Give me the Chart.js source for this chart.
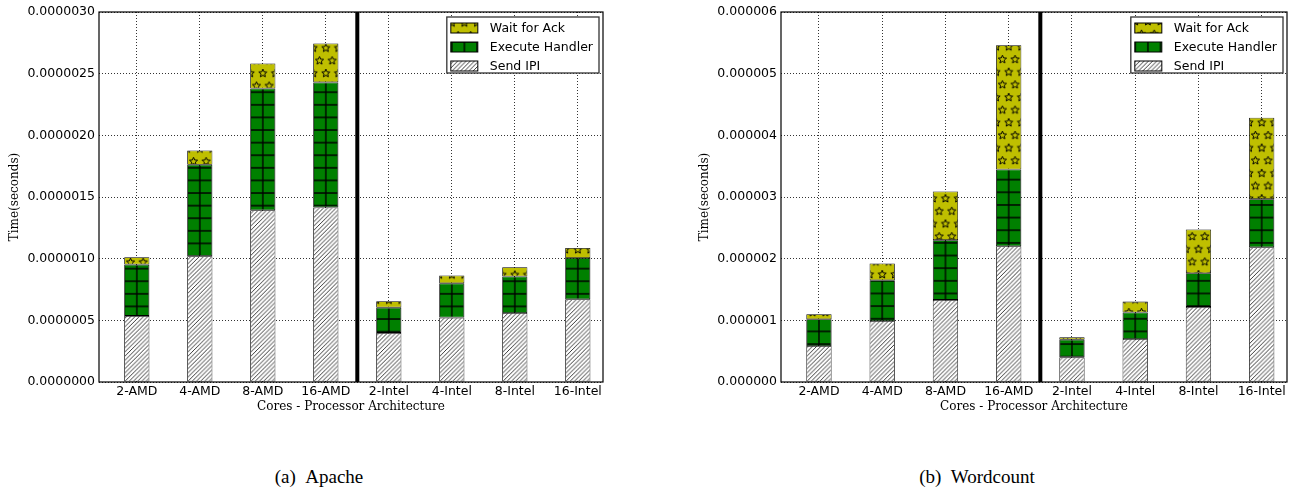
<!DOCTYPE html>
<html>
<head>
<meta charset="utf-8">
<script src="https://cdn.jsdelivr.net/npm/chart.js@4.4.0/dist/chart.umd.min.js"></script>
<style>
  html, body { margin: 0; padding: 0; background: #fff; }
  body { width: 1295px; height: 487px; position: relative; overflow: hidden; }
  canvas { position: absolute; top: 0; }
  #apache { left: 0; }
  #wordcount { left: 690px; }
  .caption {
    position: absolute; top: 466px; transform: translateX(-50%);
    font-family: 'Liberation Serif', 'Times New Roman', serif;
    font-size: 19px; line-height: 22px; color: #000; white-space: nowrap;
  }
</style>
</head>
<body>
<canvas id="apache" width="640" height="414"></canvas>
<canvas id="wordcount" width="605" height="414"></canvas>
<div class="caption" style="left:319px">(a)&nbsp;&nbsp;Apache</div>
<div class="caption" style="left:977px">(b)&nbsp;&nbsp;Wordcount</div>

<script>
const CORES = ['2-AMD', '4-AMD', '8-AMD', '16-AMD', '2-Intel', '4-Intel', '8-Intel', '16-Intel'];
const DIVIDER_AT = 3.5; // between the AMD and Intel groups

// Apache, seconds per phase (stacked)
const APACHE_SEND = [0.536e-6, 1.020e-6, 1.393e-6, 1.415e-6, 0.398e-6, 0.522e-6, 0.560e-6, 0.671e-6];
const APACHE_EXEC = [0.416e-6, 0.741e-6, 0.987e-6, 1.014e-6, 0.205e-6, 0.278e-6, 0.295e-6, 0.335e-6];
const APACHE_WAIT = [0.060e-6, 0.116e-6, 0.203e-6, 0.316e-6, 0.052e-6, 0.063e-6, 0.075e-6, 0.081e-6];
const APACHE_TICKS = [0, 0.5e-6, 1.0e-6, 1.5e-6, 2.0e-6, 2.5e-6, 3.0e-6];
const APACHE_TICK_LABELS = ['0.0000000', '0.0000005', '0.0000010', '0.0000015', '0.0000020', '0.0000025', '0.0000030'];

// Wordcount, seconds per phase (stacked)
const WC_SEND = [0.584e-6, 0.990e-6, 1.331e-6, 2.202e-6, 0.400e-6, 0.698e-6, 1.218e-6, 2.186e-6];
const WC_EXEC = [0.433e-6, 0.660e-6, 0.969e-6, 1.245e-6, 0.287e-6, 0.428e-6, 0.546e-6, 0.779e-6];
const WC_WAIT = [0.081e-6, 0.271e-6, 0.790e-6, 2.013e-6, 0.038e-6, 0.178e-6, 0.709e-6, 1.321e-6];
const WC_TICKS = [0, 1e-6, 2e-6, 3e-6, 4e-6, 5e-6, 6e-6];
const WC_TICK_LABELS = ['0.000000', '0.000001', '0.000002', '0.000003', '0.000004', '0.000005', '0.000006'];

const BAR_PCT = 0.4;
const TILE = 13;
const TICK_FONT = { family: "'DejaVu Sans', sans-serif", size: 12.5 };
const TITLE_FONT = { family: "'DejaVu Serif', serif", size: 12 };

function makeTile(ctx, w, h, draw) {
    const c = document.createElement('canvas');
    c.width = w; c.height = h;
    draw(c.getContext('2d'), w, h);
    return ctx.createPattern(c, 'repeat');
}

function star(g, cx, cy, r) {
    g.beginPath();
    for (let k = 0; k < 10; k++) {
        const rr = k % 2 ? r * 0.45 : r;
        const a = -Math.PI / 2 + k * Math.PI / 5;
        g.lineTo(cx + rr * Math.cos(a), cy + rr * Math.sin(a));
    }
    g.closePath();
    g.stroke();
}

function makePatterns(ctx) {
    const T = TILE;
    // Send IPI: white with dense '/' hatch
    const hatch = makeTile(ctx, T, T, (g) => {
        g.fillStyle = '#fff'; g.fillRect(0, 0, T, T);
        g.strokeStyle = '#000'; g.lineWidth = 0.8;
        for (let k = -1; k <= 7; k++) {
            const o = k * T / 3;
            g.beginPath(); g.moveTo(o, 0); g.lineTo(o - T, T); g.stroke();
        }
    });
    // Execute Handler: green with '+' grid
    const grid = makeTile(ctx, T, T, (g) => {
        g.fillStyle = '#008000'; g.fillRect(0, 0, T, T);
        g.strokeStyle = '#000'; g.lineWidth = 1.4;
        g.beginPath();
        g.moveTo(0, 0); g.lineTo(0, T); g.moveTo(T, 0); g.lineTo(T, T);
        g.moveTo(0, 0); g.lineTo(T, 0); g.moveTo(0, T); g.lineTo(T, T);
        g.stroke();
    });
    // Wait for Ack: yellow with star outlines, alternate rows offset
    const stars = makeTile(ctx, T, 2 * T, (g) => {
        g.fillStyle = '#bfbf00'; g.fillRect(0, 0, T, 2 * T);
        g.strokeStyle = '#000'; g.lineWidth = 1;
        star(g, T / 2, T / 2, 4.4);
        star(g, 0, 1.5 * T, 4.4);
        star(g, T, 1.5 * T, 4.4);
    });
    return { hatch, grid, stars };
}

function makeChart(canvasId, send, exec, wait, yTicks, yLabels, axisWidth, padRight) {
    const ctx = document.getElementById(canvasId).getContext('2d');
    const pats = makePatterns(ctx);

    const ds = (label, values, bg) => ({
        label: label,
        data: values.map((v, i) => ({ x: i, y: v })),
        backgroundColor: bg,
        borderColor: '#000',
        borderWidth: 0.8,
        borderSkipped: false,
        barPercentage: BAR_PCT,
        categoryPercentage: 1
    });

    // keep hatches lined up with the bars (two cells per bar width)
    const patternAlign = {
        id: 'patternAlign',
        beforeDatasetsDraw(chart) {
            const x = chart.scales.x, y = chart.scales.y;
            const half = x.getPixelForValue(BAR_PCT / 2) - x.getPixelForValue(0);
            const s = half / TILE;
            const m = new DOMMatrix().translateSelf(x.getPixelForValue(0), y.getPixelForValue(0)).scaleSelf(s, s);
            [pats.hatch, pats.grid, pats.stars].forEach(p => p.setTransform(m));
        }
    };

    const frame = {
        id: 'frame',
        afterDraw(chart) {
            const { ctx: c, chartArea: a, scales: { x } } = chart;
            c.save();
            // thick divider AMD | Intel
            const dx = x.getPixelForValue(DIVIDER_AT);
            c.strokeStyle = '#000';
            c.lineWidth = 4;
            c.beginPath(); c.moveTo(dx, a.top); c.lineTo(dx, a.bottom); c.stroke();
            // axes box
            c.lineWidth = 1.2;
            c.strokeRect(a.left, a.top, a.width, a.height);

            // legend, boxed, top right, reversed order
            const items = chart.data.datasets.slice().reverse();
            c.font = `${TICK_FONT.size}px ${TICK_FONT.family}`;
            const textW = Math.max(...items.map(d => c.measureText(d.label).width));
            const sw = 27, sh = 10, gap = 12, padL = 4, padR = 6, rowH = 19;
            const bw = padL + sw + gap + textW + padR;
            const bh = 56;
            const bx = a.right - 4 - bw, by = a.top + 5;
            c.fillStyle = '#fff';
            c.fillRect(bx, by, bw, bh);
            c.strokeStyle = '#333';
            c.lineWidth = 1.3;
            c.strokeRect(bx, by, bw, bh);
            items.forEach((d, i) => {
                const cy = by + 11 + i * rowH;
                c.fillStyle = d.backgroundColor;
                c.fillRect(bx + padL, cy - sh / 2, sw, sh);
                c.strokeStyle = '#000';
                c.lineWidth = 1;
                c.strokeRect(bx + padL, cy - sh / 2, sw, sh);
                c.fillStyle = '#000';
                c.textBaseline = 'middle';
                c.textAlign = 'left';
                c.fillText(d.label, bx + padL + sw + gap, cy + 1);
            });
            c.restore();
        }
    };

    return new Chart(ctx, {
        type: 'bar',
        data: {
            datasets: [
                ds('Send IPI', send, pats.hatch),
                ds('Execute Handler', exec, pats.grid),
                ds('Wait for Ack', wait, pats.stars)
            ]
        },
        options: {
            responsive: false,
            animation: false,
            events: [],
            layout: { padding: { left: 0, right: padRight, top: 12, bottom: 0 } },
            plugins: {
                legend: { display: false },
                tooltip: { enabled: false }
            },
            scales: {
                x: {
                    type: 'linear',
                    stacked: true,
                    offset: false,
                    min: -0.6,
                    max: 7.4,
                    z: 1,
                    afterBuildTicks: (s) => { s.ticks = CORES.map((_, i) => ({ value: i })); },
                    afterFit: (s) => { s.height = 32; },
                    ticks: {
                        callback: (v) => CORES[v],
                        color: '#000',
                        font: TICK_FONT,
                        padding: 2,
                        maxRotation: 0,
                        autoSkip: false
                    },
                    grid: { offset: false, color: 'rgba(0,0,0,0.8)', lineWidth: 1, drawTicks: false },
                    border: { display: false, dash: [1, 2] },
                    title: {
                        display: true,
                        text: 'Cores - Processor Architecture',
                        color: '#000',
                        font: TITLE_FONT,
                        padding: 0
                    }
                },
                y: {
                    stacked: true,
                    min: 0,
                    max: yTicks[yTicks.length - 1],
                    z: 1,
                    afterBuildTicks: (s) => { s.ticks = yTicks.map(v => ({ value: v })); },
                    afterFit: (s) => { s.width = axisWidth; },
                    ticks: {
                        callback: (v, i) => yLabels[i],
                        color: '#000',
                        font: TICK_FONT,
                        padding: 4
                    },
                    grid: { color: 'rgba(0,0,0,0.8)', lineWidth: 1, drawTicks: false },
                    border: { display: false, dash: [1, 2] },
                    title: {
                        display: true,
                        text: 'Time(seconds)',
                        color: '#000',
                        font: TITLE_FONT,
                        padding: { top: 8, bottom: 0 }
                    }
                }
            }
        },
        plugins: [patternAlign, frame]
    });
}

makeChart('apache', APACHE_SEND, APACHE_EXEC, APACHE_WAIT, APACHE_TICKS, APACHE_TICK_LABELS, 99, 37);
makeChart('wordcount', WC_SEND, WC_EXEC, WC_WAIT, WC_TICKS, WC_TICK_LABELS, 91, 8);
</script>
</body>
</html>
